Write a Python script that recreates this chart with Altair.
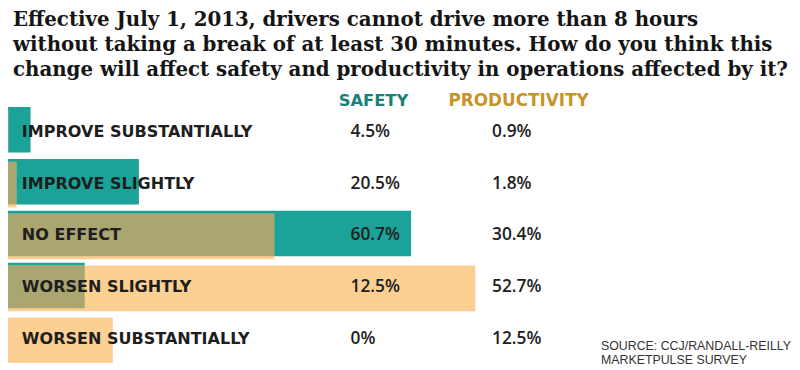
import altair as alt
import pandas as pd

title_lines = [
    "Effective July 1, 2013, drivers cannot drive more than 8 hours",
    "without taking a break of at least 30 minutes. How do you think this",
    "change will affect safety and productivity in operations affected by it?",
]
categories = [
    "IMPROVE SUBSTANTIALLY",
    "IMPROVE SLIGHTLY",
    "NO EFFECT",
    "WORSEN SLIGHTLY",
    "WORSEN SUBSTANTIALLY",
]
safety = [4.5, 20.5, 60.7, 12.5, 0.0]
productivity = [0.9, 1.8, 30.4, 52.7, 12.5]
series_names = ["SAFETY", "PRODUCTIVITY"]
source_lines = ["SOURCE: CCJ/RANDALL-REILLY", "MARKETPULSE SURVEY"]

TEAL = "#1ba39a"
TAN = "#fccf92"
OLIVE = "#aaa670"
TEAL_HEAD = "#1a8078"
GOLD_HEAD = "#c8942a"
INK = "#1e1e1e"

df = pd.DataFrame({"cat": categories, "safety": safety, "productivity": productivity})
df["safety_label"] = [f"{v:g}%" for v in safety]
df["prod_label"] = [f"{v:g}%" for v in productivity]

TEAL_PX = 6.84
TAN_PX = 9.11
SHIFT = 8

teal_scale = alt.Scale(domain=[0, 100], range=[-SHIFT, 100 * TEAL_PX - SHIFT])
tan_scale = alt.Scale(domain=[0, 100], range=[-SHIFT, 100 * TAN_PX - SHIFT])
yscale = alt.Scale(domain=categories, range=[95, 357], paddingInner=0, paddingOuter=0)
Y = alt.Y("cat:N", sort=categories, scale=yscale, axis=None)

base = alt.Chart(df)

teal = base.mark_bar(color=TEAL, size=46).encode(
    x=alt.X("safety:Q", scale=teal_scale, axis=None), y=Y
)
tan = base.mark_bar(color=TAN, size=46, yOffset=3).encode(
    x=alt.X("productivity:Q", scale=tan_scale, axis=None), y=Y
)
olive = base.transform_calculate(
    ov=f"min(datum.productivity, datum.safety * {TEAL_PX / TAN_PX})"
).mark_bar(color=OLIVE, size=43, yOffset=1.5).encode(
    x=alt.X("ov:Q", scale=tan_scale, axis=None), y=Y
)

labels = base.mark_text(
    align="left", baseline="middle", font="DejaVu Sans", fontWeight="bold",
    fontSize=16.2, color=INK, dy=2,
).encode(x=alt.value(14), y=Y, text="cat:N")

safety_txt = base.mark_text(
    align="left", baseline="middle", font="Open Sans", fontWeight=600,
    fontSize=17.5, color=INK, dy=2,
).encode(x=alt.value(346), y=Y, text="safety_label:N")

prod_txt = base.mark_text(
    align="left", baseline="middle", font="Open Sans", fontWeight=600,
    fontSize=17.5, color=INK, dy=2,
).encode(x=alt.value(489), y=Y, text="prod_label:N")

head_df = pd.DataFrame({"h": series_names})
head_safety = alt.Chart(head_df).transform_filter(alt.datum.h == series_names[0]).mark_text(
    align="left", baseline="middle", font="DejaVu Sans", fontWeight="bold",
    fontSize=16.5, color=TEAL_HEAD,
).encode(x=alt.value(334), y=alt.value(92), text="h:N")
head_prod = alt.Chart(head_df).transform_filter(alt.datum.h == series_names[1]).mark_text(
    align="left", baseline="middle", font="DejaVu Sans", fontWeight="bold",
    fontSize=17, color=GOLD_HEAD,
).encode(x=alt.value(445), y=alt.value(92), text="h:N")

title_df = pd.DataFrame({"t": ["\n".join(title_lines)]})
title = alt.Chart(title_df).mark_text(
    align="left", baseline="top", font="DejaVu Serif", fontWeight="bold",
    fontSize=20, lineHeight=25.5, lineBreak="\n", color="#151515",
).encode(x=alt.value(5), y=alt.value(0), text="t:N")

src_df = pd.DataFrame({"t": ["\n".join(source_lines)]})
source = alt.Chart(src_df).mark_text(
    align="left", baseline="middle", font="Liberation Sans",
    fontSize=12.5, lineHeight=14, lineBreak="\n", color="#333333",
).encode(x=alt.value(599), y=alt.value(340), text="t:N")

chart = alt.layer(
    teal, tan, olive, labels, safety_txt, prod_txt, head_safety, head_prod, title, source
).resolve_scale(x="independent").properties(
    width=792, height=362, padding=0, autosize=alt.AutoSizeParams(type="none")
).configure_view(stroke=None)

chart.save("out.html", embed_options={"renderer": "svg", "actions": False})
